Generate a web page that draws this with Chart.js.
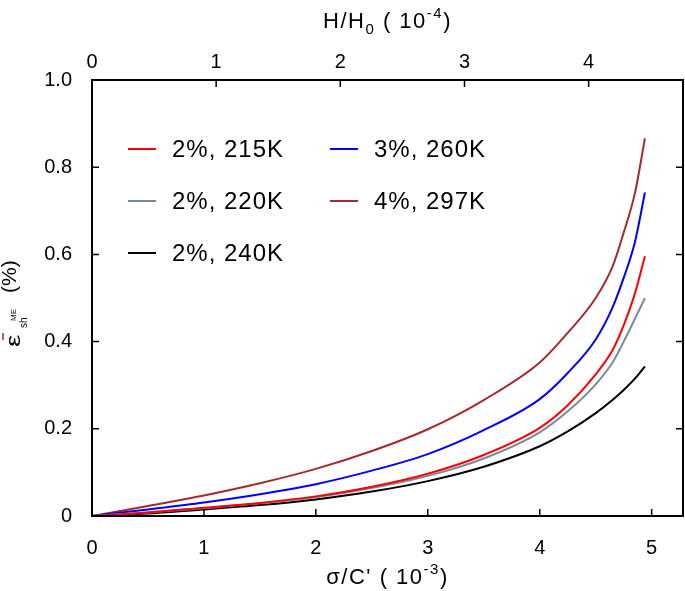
<!DOCTYPE html>
<html>
<head>
<meta charset="utf-8">
<script src="https://cdn.jsdelivr.net/npm/chart.js@4.4.1/dist/chart.umd.min.js"></script>
<style>
  html, body { margin: 0; padding: 0; background: #fff; }
  #wrap { width: 685px; height: 591px; }
</style>
</head>
<body>
<div id="wrap"><canvas id="c" width="685" height="591"></canvas></div>
<script>
// sigma/C' (10^-3) and strain (%)
const sigma = [0, 0.5, 1, 1.5, 2, 2.5, 3, 3.5, 4, 4.25, 4.5, 4.65, 4.75, 4.85, 4.94]
const e215 = [0, 0.008, 0.019, 0.03, 0.045, 0.067, 0.097, 0.14, 0.202, 0.254, 0.325, 0.38, 0.437, 0.51, 0.596]
const e220 = [0, 0.008, 0.018, 0.029, 0.043, 0.064, 0.092, 0.132, 0.192, 0.24, 0.302, 0.352, 0.4, 0.452, 0.5]
const e240 = [0, 0.006, 0.015, 0.025, 0.038, 0.056, 0.08, 0.113, 0.16, 0.194, 0.236, 0.266, 0.289, 0.315, 0.343]
const e260 = [0, 0.015, 0.031, 0.05, 0.073, 0.104, 0.142, 0.197, 0.268, 0.328, 0.405, 0.478, 0.546, 0.628, 0.742]
const e297 = [0, 0.023, 0.047, 0.075, 0.108, 0.149, 0.199, 0.266, 0.352, 0.42, 0.5, 0.572, 0.65, 0.74, 0.866]

const labels = ["2%, 215K", "2%, 220K", "2%, 240K", "3%, 260K", "4%, 297K"]
const series = [e215, e220, e240, e260, e297]
const colors = ["#ff0000", "#7b8a99", "#000000", "#0000ff", "#a52a2a"]

const FONT = "'Liberation Sans', Arial, Helvetica, sans-serif"

// a run of [text, size, dy] pieces
function runWidth(ctx, parts) {
  let w = 0
  parts.forEach(p => { ctx.font = p[1] + "px " + FONT; w += ctx.measureText(p[0]).width })
  return w
}
function drawRun(ctx, parts, x, y) {
  parts.forEach(p => {
    ctx.font = p[1] + "px " + FONT
    ctx.fillText(p[0], x, y + p[2])
    x += ctx.measureText(p[0]).width
  })
}

const decor = {
  id: "decor",
  afterDraw(chart) {
    const { ctx, chartArea: a, scales } = chart
    ctx.save()
    ctx.strokeStyle = "#000"
    ctx.fillStyle = "#000"

    // inward tick marks
    ctx.lineWidth = 1.5
    const L = 7
    ctx.beginPath()
    scales.x.ticks.forEach(t => {
      if (t.value <= scales.x.min || t.value >= scales.x.max) return
      const px = scales.x.getPixelForValue(t.value)
      ctx.moveTo(px, a.bottom); ctx.lineTo(px, a.bottom - L)
    })
    scales.x2.ticks.forEach(t => {
      if (t.value <= scales.x2.min || t.value >= scales.x2.max) return
      const px = scales.x2.getPixelForValue(t.value)
      ctx.moveTo(px, a.top); ctx.lineTo(px, a.top + L)
    })
    scales.y.ticks.forEach(t => {
      if (t.value <= scales.y.min || t.value >= scales.y.max) return
      const py = scales.y.getPixelForValue(t.value)
      ctx.moveTo(a.left, py); ctx.lineTo(a.left + L, py)
      ctx.moveTo(a.right, py); ctx.lineTo(a.right - L, py)
    })
    ctx.stroke()

    // frame
    ctx.lineWidth = 2
    ctx.strokeRect(a.left, a.top, a.right - a.left, a.bottom - a.top)

    // legend, 3 rows, two columns
    ctx.textBaseline = "middle"
    ctx.textAlign = "left"
    ctx.letterSpacing = "1px"
    chart.data.datasets.forEach((ds, i) => {
      const col = Math.floor(i / 3), row = i % 3
      const x0 = a.left + 36 + col * 202
      const y0 = a.top + 69 + row * 52
      ctx.strokeStyle = ds.borderColor
      ctx.lineWidth = 2
      ctx.beginPath(); ctx.moveTo(x0, y0); ctx.lineTo(x0 + 28, y0); ctx.stroke()
      ctx.font = "24px " + FONT
      ctx.fillText(ds.label, x0 + 44, y0 + 1)
    })

    // axis titles
    ctx.textBaseline = "alphabetic"
    ctx.letterSpacing = "1.5px"
    const cx = (a.left + a.right) / 2
    const top = [["H/H", 22, 0], ["0", 15, 6], [" ( 10", 22, 0], ["-4", 15, -10], [")", 22, 0]]
    let w = runWidth(ctx, top)
    drawRun(ctx, top, cx - w / 2, 28)
    const bot = [["\u03c3/C' ( 10", 22, 0], ["-3", 15, -10], [")", 22, 0]]
    w = runWidth(ctx, bot)
    drawRun(ctx, bot, cx - w / 2, 584)
    ctx.letterSpacing = "0px"

    // y title, rotated
    ctx.translate(19, (a.top + a.bottom) / 2 + 49)
    ctx.rotate(-Math.PI / 2)
    ctx.save()
    ctx.scale(1.4, 1)
    ctx.font = "20px " + FONT
    ctx.fillText("\u03b5", 0, 1)
    ctx.restore()
    ctx.lineWidth = 1.5
    ctx.beginPath(); ctx.moveTo(7, -16); ctx.lineTo(14, -16); ctx.stroke()
    ctx.font = "10px " + FONT
    ctx.fillText("sh", 19, 8)
    ctx.font = "8px " + FONT
    ctx.fillText("ME", 26, -3)
    ctx.font = "21px " + FONT
    ctx.fillText("(%)", 54, -3)
    ctx.restore()
  }
}

new Chart(document.getElementById("c"), {
  type: "line",
  data: {
    datasets: series.map((s, i) => ({
      label: labels[i],
      data: sigma.map((x, j) => ({ x: x, y: s[j] })),
      borderColor: colors[i],
      backgroundColor: colors[i],
      borderWidth: 2,
      pointRadius: 0,
      fill: false,
      cubicInterpolationMode: "monotone"
    }))
  },
  options: {
    responsive: false,
    animation: false,
    layout: { padding: { right: 2, left: 0, top: 0, bottom: 0 } },
    plugins: { legend: { display: false }, tooltip: { enabled: false } },
    scales: {
      x: {
        type: "linear", position: "bottom", min: 0, max: 5.28,
        grid: { display: false }, border: { display: false },
        ticks: { stepSize: 1, includeBounds: false, color: "#000", padding: 12, maxRotation: 0,
          font: { family: FONT, size: 20 }, callback: v => String(v) },
        afterFit: s => { s.height = 75 }
      },
      x2: {
        type: "linear", position: "top", min: 0, max: 4.76,
        grid: { display: false }, border: { display: false },
        ticks: { stepSize: 1, includeBounds: false, color: "#000", padding: -2, maxRotation: 0,
          font: { family: FONT, size: 20 }, callback: v => String(v) },
        afterFit: s => { s.height = 80 }
      },
      y: {
        type: "linear", position: "left", min: 0, max: 1,
        grid: { display: false }, border: { display: false },
        ticks: { stepSize: 0.2, color: "#000", padding: 12,
          font: { family: FONT, size: 20 }, callback: v => v === 0 ? "0" : v.toFixed(1) },
        afterFit: s => { s.width = 92 }
      }
    }
  },
  plugins: [decor]
})
</script>
</body>
</html>
